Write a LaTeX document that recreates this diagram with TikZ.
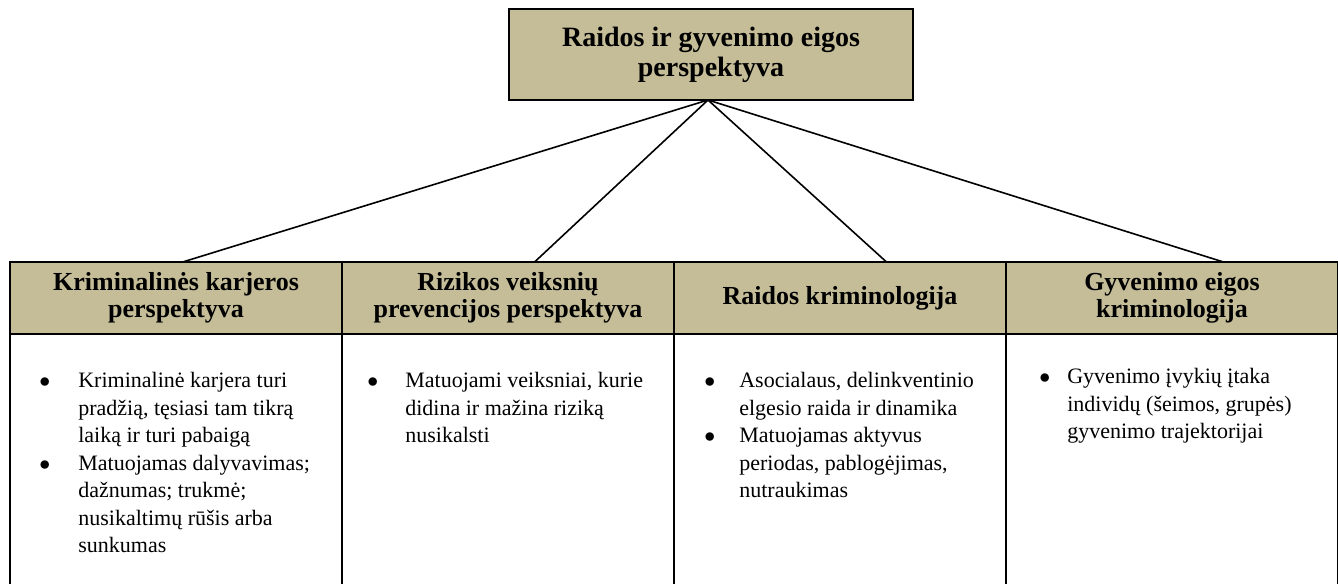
\documentclass[tikz,border=0pt]{standalone}
\usepackage{fontspec}
\setmainfont{Liberation Serif}
\usetikzlibrary{positioning,calc}
\definecolor{khaki}{RGB}{196,189,151}

\begin{document}
\begin{tikzpicture}[x=0.5pt, y=-0.5pt,
    box/.style={draw, line width=1.2pt, fill=khaki, align=center, inner sep=0pt, outer sep=0pt},
    head/.style={box, minimum width=166pt, minimum height=36pt, font=\bfseries\fontsize{13}{13.5}\selectfont},
    rule/.style={line width=1.2pt},
    link/.style={line width=0.8pt},
    list/.style={anchor=north west, inner sep=0pt, font=\fontsize{11}{13.75}\selectfont}]
\useasboundingbox (0,0) rectangle (1338,584);

\node[box, minimum width=202pt, minimum height=45.5pt, font=\bfseries\fontsize{14}{15}\selectfont]
    (root) at (711,54.5) {Raidos ir gyvenimo eigos\\perspektyva};

\node[head] (h1) at (176,298) {Kriminalinės karjeros\\perspektyva};
\node[head, right=0pt of h1] (h2) {Rizikos veiksnių\\prevencijos perspektyva};
\node[head, right=0pt of h2] (h3) {Raidos kriminologija};
\node[head, right=0pt of h3] (h4) {Gyvenimo eigos\\kriminologija};

% cell sides
\coordinate (bot) at (0,584);
\foreach \n in {1,...,4}
    \draw[rule] (h\n.south west) -- (h\n.south west |- bot);
\draw[rule] (h4.south east) -- (h4.south east |- bot);

% lines from the top box
\coordinate (apex) at ([xshift=-1.5pt]root.south);
\foreach \n/\f in {1/0.52, 2/0.58, 3/0.64, 4/0.655}
    \draw[link] (apex) -- ($(h\n.north west)!\f!(h\n.north east)$);

% lists
\node[list] (l1) at (39,368) {\begin{tabular}{@{}l@{\hspace{14pt}}l@{}}
    $\bullet$ & Kriminalinė karjera turi\\
    & pradžią, tęsiasi tam tikrą\\
    & laiką ir turi pabaigą\\
    $\bullet$ & Matuojamas dalyvavimas;\\
    & dažnumas; trukmė;\\
    & nusikaltimų rūšis arba\\
    & sunkumas
\end{tabular}};
\node[list] (l2) at (367,368) {\begin{tabular}{@{}l@{\hspace{13.5pt}}l@{}}
    $\bullet$ & Matuojami veiksniai, kurie\\
    & didina ir mažina riziką\\
    & nusikalsti
\end{tabular}};
\node[list] (l3) at (704,368) {\begin{tabular}{@{}l@{\hspace{12pt}}l@{}}
    $\bullet$ & Asocialaus, delinkventinio\\
    & elgesio raida ir dinamika\\
    $\bullet$ & Matuojamas aktyvus\\
    & periodas, pablogėjimas,\\
    & nutraukimas
\end{tabular}};
\node[list] (l4) at (1039,364) {\begin{tabular}{@{}l@{\hspace{8.5pt}}l@{}}
    $\bullet$ & Gyvenimo įvykių įtaka\\
    & individų (šeimos, grupės)\\
    & gyvenimo trajektorijai
\end{tabular}};
\end{tikzpicture}
\end{document}
